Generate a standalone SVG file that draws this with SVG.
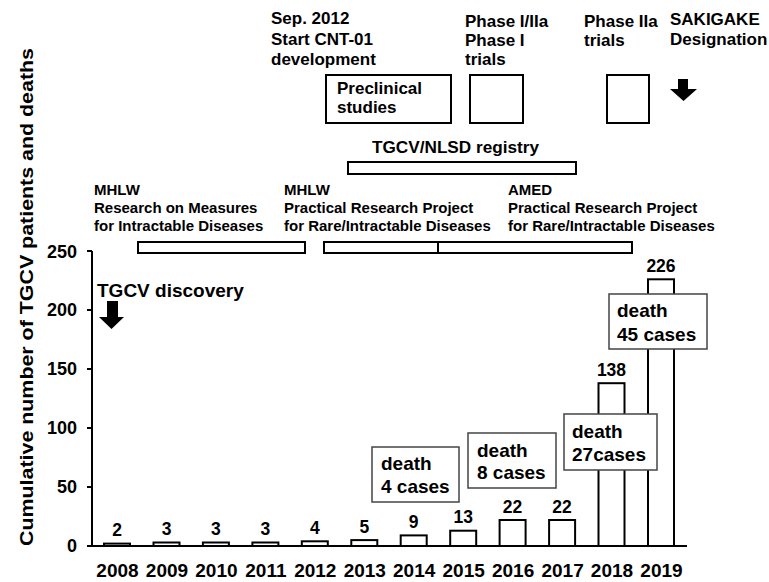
<svg xmlns="http://www.w3.org/2000/svg" width="769" height="582" viewBox="0 0 769 582">
<style>
text{font-family:"Liberation Sans",Arial,sans-serif;font-weight:bold;fill:#000}
.t17{font-size:17px}
.t15{font-size:15px}
.t19{font-size:19px}
.val{font-size:17.5px;text-anchor:middle}
.yr{font-size:19px;text-anchor:middle}
.tick{font-size:18px;text-anchor:end}
.box{fill:#fff;stroke:#000;stroke-width:2}
.bar{fill:#fff;stroke:#000;stroke-width:2}
.dbox{fill:#fff;stroke:#444;stroke-width:1.5}
.axis{stroke:#000;stroke-width:2;fill:none}
</style>
<rect width="769" height="582" fill="#fff"/>

<g id="y-title"><text class="t19" transform="translate(33,297) rotate(-90)" text-anchor="middle" font-size="21" textLength="498" lengthAdjust="spacingAndGlyphs">Cumulative number of TGCV patients and deaths</text></g>

<g id="axes">
<path class="axis" d="M92,251 V546 H687"/>
<path class="axis" d="M87,251 H92 M87,310 H92 M87,369 H92 M87,428 H92 M87,487 H92 M87,546 H92"/>
<text class="tick" x="77" y="258">250</text>
<text class="tick" x="77" y="316">200</text>
<text class="tick" x="77" y="375">150</text>
<text class="tick" x="77" y="434">100</text>
<text class="tick" x="77" y="493">50</text>
<text class="tick" x="77" y="552">0</text>
</g>

<g id="bars">
<rect class="bar" x="104" y="543.6" width="26" height="2.4"/>
<rect class="bar" x="153.5" y="542.5" width="26" height="3.5"/>
<rect class="bar" x="202.9" y="542.5" width="26" height="3.5"/>
<rect class="bar" x="252.4" y="542.5" width="26" height="3.5"/>
<rect class="bar" x="301.8" y="541.3" width="26" height="4.7"/>
<rect class="bar" x="351.3" y="540.1" width="26" height="5.9"/>
<rect class="bar" x="400.7" y="535.4" width="26" height="10.6"/>
<rect class="bar" x="450.2" y="530.7" width="26" height="15.3"/>
<rect class="bar" x="499.6" y="520" width="26" height="26"/>
<rect class="bar" x="549.1" y="520" width="26" height="26"/>
<rect class="bar" x="598.5" y="383.2" width="26" height="162.8"/>
<rect class="bar" x="648" y="279.3" width="26" height="266.7"/>
</g>

<g id="values">
<text class="val" x="117" y="536">2</text>
<text class="val" x="166.5" y="535">3</text>
<text class="val" x="215.9" y="535">3</text>
<text class="val" x="265.4" y="535">3</text>
<text class="val" x="314.8" y="533.8">4</text>
<text class="val" x="364.3" y="532.6">5</text>
<text class="val" x="413.7" y="527.9">9</text>
<text class="val" x="463.2" y="523.2">13</text>
<text class="val" x="512.6" y="512.5">22</text>
<text class="val" x="562.1" y="512.5">22</text>
<text class="val" x="611.5" y="375.7">138</text>
<text class="val" x="661" y="271.8">226</text>
</g>

<g id="years">
<text class="yr" x="117.5" y="577">2008</text>
<text class="yr" x="167" y="577">2009</text>
<text class="yr" x="216.4" y="577">2010</text>
<text class="yr" x="265.9" y="577">2011</text>
<text class="yr" x="315.3" y="577">2012</text>
<text class="yr" x="364.8" y="577">2013</text>
<text class="yr" x="414.2" y="577">2014</text>
<text class="yr" x="463.7" y="577">2015</text>
<text class="yr" x="513.1" y="577">2016</text>
<text class="yr" x="562.6" y="577">2017</text>
<text class="yr" x="612" y="577">2018</text>
<text class="yr" x="661.5" y="577">2019</text>
</g>

<g id="death-4">
<rect class="dbox" x="372" y="447" width="87" height="55"/>
<text class="t19" x="381" y="470">death</text>
<text class="t19" x="381" y="493">4 cases</text>
</g>
<g id="death-8">
<rect class="dbox" x="468" y="433" width="88" height="55"/>
<text class="t19" x="477" y="457">death</text>
<text class="t19" x="477" y="479">8 cases</text>
</g>
<g id="death-27">
<rect class="dbox" x="564" y="414" width="93" height="56"/>
<text class="t19" x="572" y="438">death</text>
<text class="t19" x="572" y="461">27cases</text>
</g>
<g id="death-45">
<rect class="dbox" x="609" y="294" width="98" height="55"/>
<text class="t19" x="617" y="317">death</text>
<text class="t19" x="617" y="341">45 cases</text>
</g>

<g id="tgcv-discovery">
<text class="t19" x="97" y="297">TGCV discovery</text>
<path d="M107,301 H118 V317 H124 L111.5,329 L99,317 H107 Z" fill="#000"/>
</g>

<g id="mhlw-1">
<text class="t15" x="94" y="195">MHLW</text>
<text class="t15" x="94" y="213">Research on Measures</text>
<text class="t15" x="94" y="231">for Intractable Diseases</text>
<rect class="box" x="138" y="242" width="167" height="11"/>
</g>
<g id="mhlw-2">
<text class="t15" x="284" y="195">MHLW</text>
<text class="t15" x="284" y="213">Practical Research Project</text>
<text class="t15" x="284" y="231">for Rare/Intractable Diseases</text>
<rect class="box" x="324" y="242" width="114" height="11"/>
</g>
<g id="amed">
<text class="t15" x="508" y="195">AMED</text>
<text class="t15" x="508" y="213">Practical Research Project</text>
<text class="t15" x="508" y="231">for Rare/Intractable Diseases</text>
<rect class="box" x="438" y="242" width="194" height="11"/>
</g>

<g id="registry">
<text x="372" y="153" font-size="16" textLength="167" lengthAdjust="spacingAndGlyphs">TGCV/NLSD registry</text>
<rect class="box" x="348" y="162" width="228" height="12"/>
</g>

<g id="cnt01">
<text class="t17" x="271" y="24">Sep. 2012</text>
<text class="t17" x="271" y="45">Start CNT-01</text>
<text class="t17" x="271" y="65">development</text>
</g>
<g id="preclinical">
<rect class="box" x="326" y="75" width="125" height="48"/>
<text class="t17" x="337" y="94">Preclinical</text>
<text class="t17" x="337" y="113">studies</text>
</g>
<g id="phase1">
<text class="t17" x="465" y="27">Phase I/IIa</text>
<text class="t17" x="465" y="46">Phase I</text>
<text class="t17" x="465" y="65">trials</text>
<rect class="box" x="470" y="75" width="53" height="48"/>
</g>
<g id="phase2">
<text class="t17" x="584" y="27">Phase IIa</text>
<text class="t17" x="584" y="46">trials</text>
<rect class="box" x="607" y="75" width="42" height="48"/>
</g>
<g id="sakigake">
<text class="t17" x="670" y="25">SAKIGAKE</text>
<text class="t17" x="670" y="45">Designation</text>
<path d="M678,79 H688 V89 H697 L683.5,101 L670,89 H678 Z" fill="#000"/>
</g>
</svg>
